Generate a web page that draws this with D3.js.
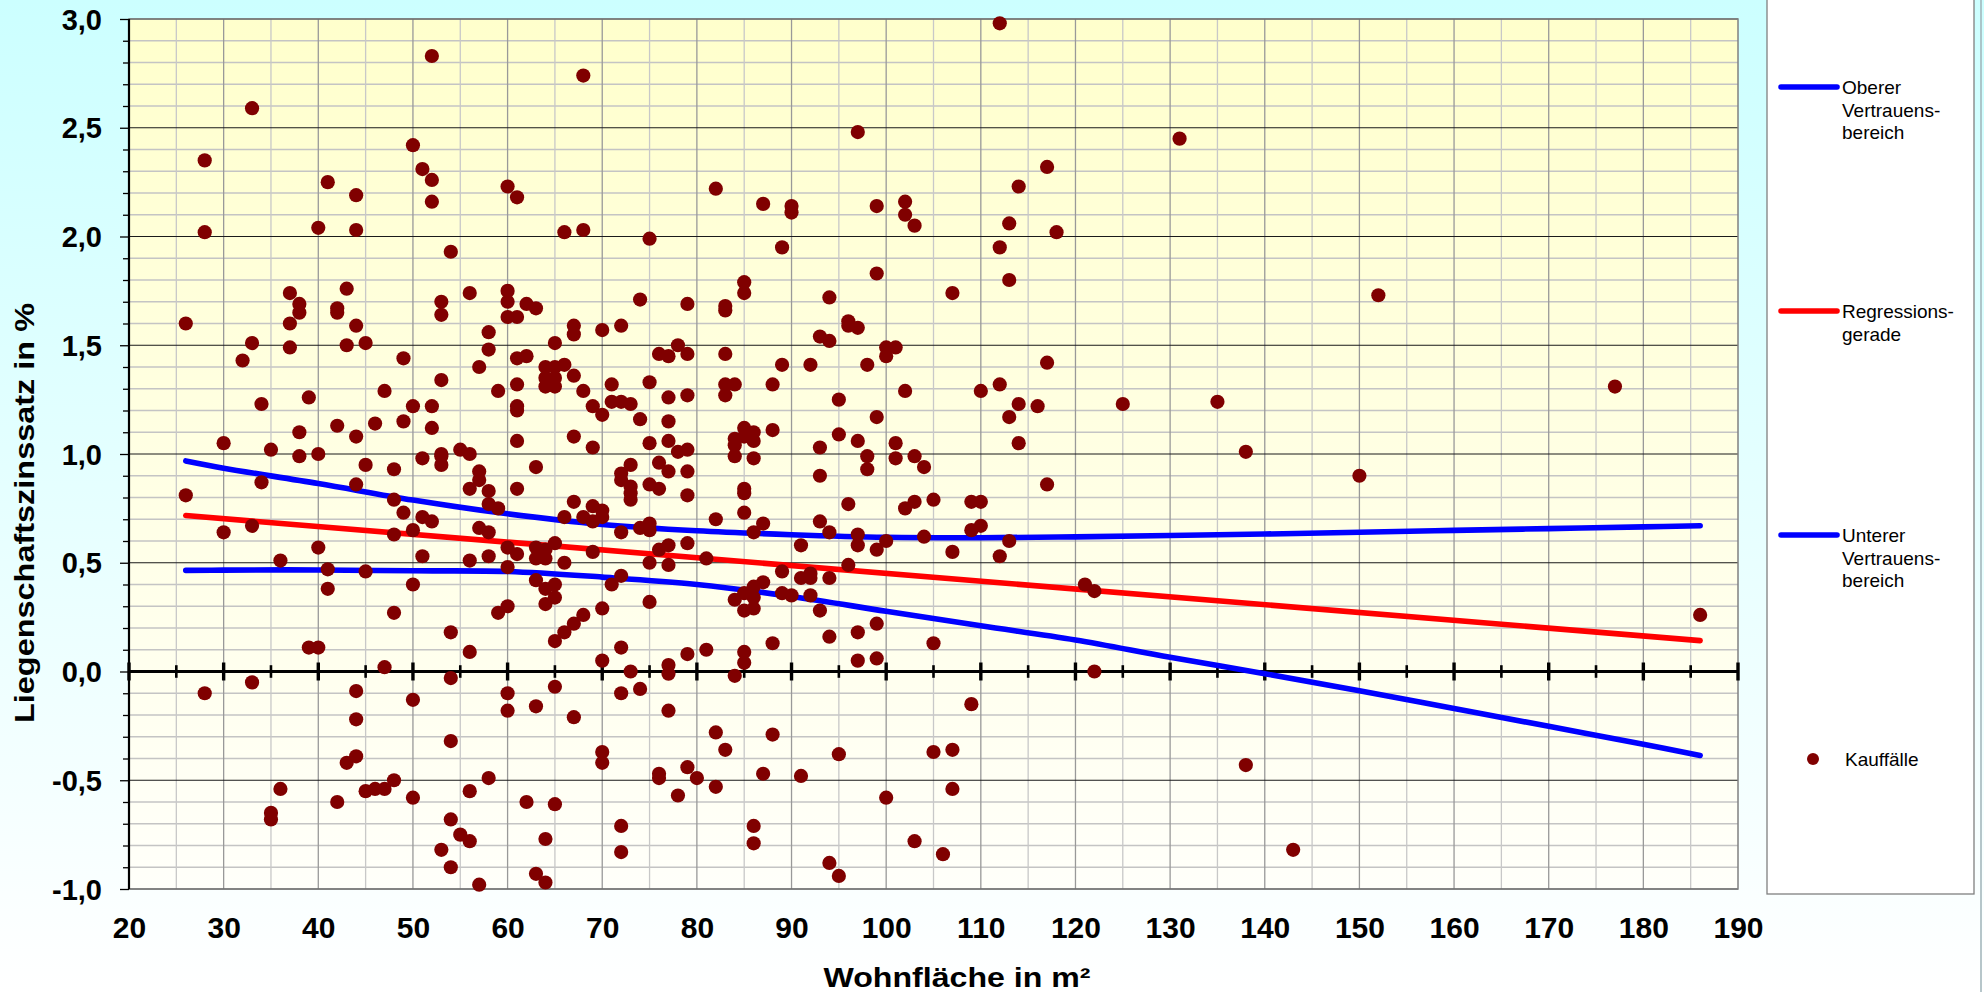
<!DOCTYPE html>
<html>
<head>
<meta charset="utf-8">
<script src="https://cdn.jsdelivr.net/npm/d3@7"></script>
<style>
  html, body { margin: 0; padding: 0; overflow: hidden; }
  svg { display: block; font-family: Arial, "Liberation Sans", sans-serif; }
</style>
</head>
<body>
<svg id="chart" width="1984" height="992"></svg>
<script>
// ---------- data ----------
const xTicks = [20, 30, 40, 50, 60, 70, 80, 90, 100, 110, 120, 130, 140, 150, 160, 170, 180, 190];
const xTickLabels = ["20", "30", "40", "50", "60", "70", "80", "90", "100", "110", "120", "130", "140", "150", "160", "170", "180", "190"];
const yTicks = [-1, -0.5, 0, 0.5, 1, 1.5, 2, 2.5, 3];
const yTickLabels = ["-1,0", "-0,5", "0,0", "0,5", "1,0", "1,5", "2,0", "2,5", "3,0"];

const xTitle = "Wohnfläche in m²";
const yTitle = "Liegenschaftszinssatz in %";

const legendLabels = [
  ["Oberer", "Vertrauens-", "bereich"],
  ["Regressions-", "gerade"],
  ["Unterer", "Vertrauens-", "bereich"],
  ["Kauffälle"]
];

// Regressionsgerade (end points)
const regX = [26, 186];
const regY = [0.717, 0.142];

// Confidence band curves
const bandX   = [26, 30, 40, 50, 60, 70, 80, 90, 100, 110, 120, 130, 140, 150, 160, 170, 180, 186];
const oberer  = [0.968, 0.935, 0.864, 0.788, 0.725, 0.676, 0.647, 0.629, 0.617, 0.615, 0.619, 0.625, 0.632, 0.640, 0.649, 0.657, 0.665, 0.670];
const unterer = [0.465, 0.466, 0.467, 0.463, 0.460, 0.434, 0.400, 0.345, 0.277, 0.210, 0.145, 0.065, -0.010, -0.088, -0.170, -0.252, -0.335, -0.386];

// Kauffälle: [Wohnfläche, Liegenschaftszinssatz]
const kauffaelle = [
  // 26 - 52
  [52,2.83],[33,2.59],[28,2.35],[50,2.42],[51,2.31],[52,2.26],[52,2.16],[41,2.25],[44,2.19],[28,2.02],
  [40,2.04],[44,2.03],[43,1.76],[37,1.74],[38,1.69],[38,1.65],[42,1.67],[42,1.65],[26,1.60],[37,1.60],
  [44,1.59],[33,1.51],[37,1.49],[43,1.50],[45,1.51],[32,1.43],[49,1.44],[47,1.29],[34,1.23],[39,1.26],
  [50,1.22],[52,1.22],[42,1.13],[46,1.14],[49,1.15],[52,1.12],[38,1.10],[44,1.08],[30,1.05],[35,1.02],
  [38,0.99],[40,1.00],[51,0.98],
  [45,0.95],[48,0.93],[34,0.87],[44,0.86],[26,0.81],[48,0.79],[49,0.73],[51,0.71],[52,0.69],[33,0.67],
  [30,0.64],[48,0.63],[50,0.65],[40,0.57],[51,0.53],[36,0.51],[41,0.47],[45,0.46],[41,0.38],[50,0.40],
  [48,0.27],[39,0.11],[40,0.11],[47,0.02],[28,-0.10],[33,-0.05],[44,-0.09],[50,-0.13],[44,-0.22],[44,-0.39],
  [43,-0.42],[36,-0.54],[35,-0.65],[35,-0.68],[42,-0.60],[45,-0.55],[46,-0.54],[47,-0.54],[48,-0.50],[50,-0.58],
  // 53 - 82
  [68,2.74],[60,2.23],[61,2.18],[82,2.22],[66,2.02],[68,2.03],[75,1.99],[54,1.93],[56,1.74],[53,1.70],
  [53,1.64],[60,1.75],[60,1.70],[62,1.69],[63,1.67],[60,1.63],[61,1.63],[74,1.71],[79,1.69],[58,1.56],
  [58,1.48],[57,1.40],[67,1.59],[67,1.55],[70,1.57],[72,1.59],[65,1.51],[61,1.44],[62,1.45],[64,1.40],
  [65,1.40],[66,1.41],[64,1.35],[65,1.35],[64,1.31],[65,1.31],[67,1.36],[68,1.29],[69,1.22],[70,1.18],
  [71,1.32],[71,1.24],[72,1.24],[73,1.23],[74,1.16],[75,1.33],[76,1.46],[77,1.45],[78,1.50],[79,1.46],
  [77,1.26],[79,1.27],[77,1.15],[53,1.34],[59,1.29],[61,1.32],[61,1.22],[61,1.20],[61,1.06],[67,1.08],
  [53,1.00],[55,1.02],[56,1.00],[69,1.03],[75,1.05],[77,1.06],[78,1.01],[79,1.02],
  [53,0.99],[53,0.95],[63,0.94],[57,0.92],[57,0.88],[56,0.84],[58,0.83],[61,0.84],[58,0.77],[59,0.75],
  [57,0.66],[58,0.64],[56,0.51],[58,0.53],[60,0.57],[61,0.54],[60,0.48],[63,0.57],[64,0.56],[63,0.52],
  [64,0.52],[65,0.59],[66,0.50],[67,0.78],[66,0.71],[68,0.71],[69,0.76],[69,0.69],[70,0.74],[70,0.71],
  [69,0.55],[72,0.91],[72,0.88],[73,0.95],[73,0.85],[73,0.82],[73,0.79],[72,0.64],[74,0.66],[75,0.68],
  [75,0.65],[75,0.86],[76,0.84],[76,0.96],[77,0.92],[79,0.92],[79,0.81],[82,0.70],[76,0.56],[77,0.58],
  [75,0.50],[77,0.49],[79,0.59],[81,0.52],[63,0.42],[64,0.38],[65,0.40],[65,0.34],[64,0.31],[60,0.30],
  [59,0.27],[54,0.18],[56,0.09],[65,0.14],[66,0.18],[67,0.22],[68,0.26],[70,0.29],[71,0.40],[72,0.44],
  [75,0.32],[70,0.05],[72,0.11],[73,0.00],[77,0.03],[77,-0.01],[79,0.08],[81,0.10],[54,-0.03],[60,-0.10],
  [60,-0.18],[63,-0.16],[65,-0.07],[67,-0.21],[72,-0.10],[74,-0.08],[77,-0.18],[54,-0.32],[70,-0.37],[70,-0.42],
  [76,-0.47],[76,-0.49],[79,-0.44],[80,-0.49],[82,-0.28],[82,-0.53],[78,-0.57],[58,-0.49],[56,-0.55],[62,-0.60],
  [65,-0.61],[54,-0.68],[55,-0.75],[56,-0.78],[53,-0.82],[54,-0.90],[57,-0.98],[64,-0.77],[63,-0.93],[64,-0.97],
  [72,-0.71],[72,-0.83],
  // 83 - 113
  [112,2.98],[97,2.48],[87,2.15],[90,2.14],[90,2.11],[99,2.14],[102,2.16],[102,2.10],[103,2.05],[113,2.06],
  [112,1.95],[113,1.80],[89,1.95],[99,1.83],[107,1.74],[85,1.79],[85,1.74],[83,1.68],[83,1.66],[94,1.72],
  [96,1.61],[96,1.59],[97,1.58],[93,1.54],[94,1.52],[100,1.49],[101,1.49],[100,1.45],[83,1.46],[89,1.41],
  [92,1.41],[98,1.41],[83,1.32],[84,1.32],[83,1.27],[88,1.32],[102,1.29],[95,1.25],[99,1.17],[110,1.29],
  [112,1.32],[113,1.17],[85,1.12],[84,1.07],[85,1.08],[86,1.10],[86,1.06],[84,1.04],[88,1.11],[93,1.03],
  [95,1.09],[97,1.06],[101,1.05],
  [84,0.99],[86,0.98],[98,0.99],[98,0.93],[101,0.98],[103,0.99],[104,0.94],[93,0.90],[85,0.84],[85,0.82],
  [85,0.73],[87,0.68],[86,0.64],[93,0.69],[94,0.64],[96,0.77],[97,0.63],[97,0.58],[99,0.56],[100,0.60],
  [102,0.75],[103,0.78],[105,0.79],[104,0.62],[107,0.55],[109,0.78],[110,0.78],[109,0.65],[110,0.67],[112,0.53],
  [113,0.60],[91,0.58],[96,0.49],[89,0.46],[91,0.43],[92,0.45],[92,0.43],[94,0.43],[87,0.41],[86,0.39],
  [85,0.36],[84,0.33],[86,0.34],[85,0.28],[86,0.29],[89,0.36],[90,0.35],[92,0.35],[93,0.28],[88,0.13],
  [85,0.09],[85,0.04],[84,-0.02],[94,0.16],[97,0.18],[99,0.22],[97,0.05],[99,0.06],[105,0.13],[109,-0.15],
  [83,-0.36],[88,-0.29],[95,-0.38],[87,-0.47],[91,-0.48],[105,-0.37],[107,-0.36],[107,-0.54],[100,-0.58],[86,-0.71],
  [86,-0.79],[103,-0.78],[106,-0.84],[94,-0.88],[95,-0.94],
  // 114 and above
  [131,2.45],[117,2.32],[114,2.23],[118,2.02],[152,1.73],[117,1.42],[114,1.23],[116,1.22],[125,1.23],[135,1.24],
  [114,1.05],[138,1.01],[150,0.90],[117,0.86],[121,0.40],[122,0.37],[122,0.00],[138,-0.43],[143,-0.82],
  [177,1.31],[186,0.26]
];

// ---------- drawing ----------
const svg = d3.select("#chart");
const W = 1984, H = 992;
const P = { left: 129, right: 1738, top: 19, bottom: 889 };

const x = d3.scaleLinear().domain([20, 190]).range([P.left, P.right]);
const y = d3.scaleLinear().domain([-1, 3]).range([P.bottom, P.top]);

const defs = svg.append("defs");
const bgGrad = defs.append("linearGradient").attr("id", "bgGrad").attr("x1", 0).attr("y1", 0).attr("x2", 0).attr("y2", 1);
bgGrad.append("stop").attr("offset", "0%").attr("stop-color", "#CCFFFF");
bgGrad.append("stop").attr("offset", "100%").attr("stop-color", "#FFFFFF");
const plotGrad = defs.append("linearGradient").attr("id", "plotGrad").attr("x1", 0).attr("y1", 0).attr("x2", 0).attr("y2", 1);
plotGrad.append("stop").attr("offset", "0%").attr("stop-color", "#FFFFCC");
plotGrad.append("stop").attr("offset", "100%").attr("stop-color", "#FFFFFA");

svg.append("rect").attr("x", 0).attr("y", 0).attr("width", W).attr("height", H).attr("fill", "url(#bgGrad)");
svg.append("line").attr("x1", 1981).attr("x2", 1981).attr("y1", 0).attr("y2", H).attr("stroke", "#9fb3b8").attr("stroke-width", 1.5);

// plot background
svg.append("rect")
  .attr("x", x(20)).attr("y", y(3))
  .attr("width", x(190) - x(20)).attr("height", y(-1) - y(3))
  .attr("fill", "url(#plotGrad)");

// grid
const grid = svg.append("g");
const minorY = d3.range(-10, 31).map(d => d / 10).filter(d => Math.abs(d * 2 - Math.round(d * 2)) > 1e-6);
grid.selectAll("line.hmin").data(minorY).join("line")
  .attr("x1", x(20)).attr("x2", x(190))
  .attr("y1", d => y(d)).attr("y2", d => y(d))
  .attr("stroke", "#C4C4C4").attr("stroke-width", 1.3);
const vx5 = d3.range(25, 190, 10);
grid.selectAll("line.v5").data(vx5).join("line")
  .attr("x1", d => x(d)).attr("x2", d => x(d))
  .attr("y1", y(3)).attr("y2", y(-1))
  .attr("stroke", "#C8C8C8").attr("stroke-width", 1.3);
grid.selectAll("line.v10").data(xTicks.slice(1, -1)).join("line")
  .attr("x1", d => x(d)).attr("x2", d => x(d))
  .attr("y1", y(3)).attr("y2", y(-1))
  .attr("stroke", "#999999").attr("stroke-width", 1.3);
grid.selectAll("line.hmaj").data(yTicks.filter(d => d !== 0)).join("line")
  .attr("x1", x(20)).attr("x2", x(190))
  .attr("y1", d => y(d)).attr("y2", d => y(d))
  .attr("stroke", "#1a1a1a").attr("stroke-width", 1);

// plot border
svg.append("rect")
  .attr("x", x(20)).attr("y", y(3))
  .attr("width", x(190) - x(20)).attr("height", y(-1) - y(3))
  .attr("fill", "none").attr("stroke", "#808080").attr("stroke-width", 1.5);

// y axis (minor ticks)
const yMinorAxis = d3.axisLeft(y).tickValues(minorY).tickSize(6).tickFormat("");
svg.append("g").attr("transform", `translate(${x(20)},0)`).call(yMinorAxis)
  .call(g => g.select(".domain").remove())
  .call(g => g.selectAll(".tick line").attr("stroke", "#000").attr("stroke-width", 1.3));

// y axis (major ticks + labels)
const yAxis = d3.axisLeft(y).tickValues(yTicks).tickSize(9).tickPadding(18)
  .tickFormat((d, i) => yTickLabels[i]);
svg.append("g").attr("transform", `translate(${x(20)},0)`).call(yAxis)
  .call(g => g.select(".domain").attr("stroke", "#000").attr("stroke-width", 2.2).attr("d", `M0,${y(3)}V${y(-1)}`))
  .call(g => g.selectAll(".tick line").attr("stroke", "#000").attr("stroke-width", 1.3))
  .call(g => g.selectAll(".tick text")
    .attr("font-family", "Arial, 'Liberation Sans', sans-serif")
    .attr("font-size", 29).attr("font-weight", "bold").attr("fill", "#000")
    .attr("dy", "0.35em"));

// x axis labels (below plot)
const xAxis = d3.axisBottom(x).tickValues(xTicks).tickSize(0).tickPadding(0)
  .tickFormat((d, i) => xTickLabels[i]);
svg.append("g").attr("transform", `translate(0,${y(-1)})`).call(xAxis)
  .call(g => g.select(".domain").remove())
  .call(g => g.selectAll(".tick text")
    .attr("font-family", "Arial, 'Liberation Sans', sans-serif")
    .attr("font-size", 30).attr("font-weight", "bold").attr("fill", "#000")
    .attr("y", 49).attr("dy", 0));

// x axis line at zero with crossing ticks
const zeroY = y(0);
svg.append("line").attr("x1", x(20)).attr("x2", x(190)).attr("y1", zeroY).attr("y2", zeroY)
  .attr("stroke", "#000").attr("stroke-width", 3);
svg.append("g").selectAll("line").data(xTicks).join("line")
  .attr("x1", d => x(d)).attr("x2", d => x(d))
  .attr("y1", zeroY - 9).attr("y2", zeroY + 9)
  .attr("stroke", "#000").attr("stroke-width", 3.4);
svg.append("g").selectAll("line").data(vx5).join("line")
  .attr("x1", d => x(d)).attr("x2", d => x(d))
  .attr("y1", zeroY - 6.3).attr("y2", zeroY + 6.3)
  .attr("stroke", "#000").attr("stroke-width", 2.6);

// curves
const lineGen = d3.line().x(d => x(d[0])).y(d => y(d[1])).curve(d3.curveCatmullRom.alpha(0.5));
const lines = svg.append("g").attr("fill", "none").attr("stroke-width", 5.6).attr("stroke-linecap", "round");
lines.append("path").attr("d", lineGen(d3.zip(regX, regY))).attr("stroke", "#FF0000");
lines.append("path").attr("d", lineGen(d3.zip(bandX, oberer))).attr("stroke", "#0000FF");
lines.append("path").attr("d", lineGen(d3.zip(bandX, unterer))).attr("stroke", "#0000FF");

// points
svg.append("g").selectAll("circle").data(kauffaelle).join("circle")
  .attr("cx", d => x(d[0])).attr("cy", d => y(d[1])).attr("r", 7.1)
  .attr("fill", "#800000");

// axis titles
svg.append("text")
  .attr("transform", `translate(33.5,${(303 + 723) / 2}) rotate(-90)`)
  .attr("text-anchor", "middle")
  .attr("font-size", 27).attr("font-weight", "bold").attr("fill", "#000")
  .attr("textLength", 420).attr("lengthAdjust", "spacingAndGlyphs")
  .text(yTitle);
svg.append("text")
  .attr("x", 957).attr("y", 987)
  .attr("text-anchor", "middle")
  .attr("font-size", 28).attr("font-weight", "bold").attr("fill", "#000")
  .attr("textLength", 267).attr("lengthAdjust", "spacingAndGlyphs")
  .text(xTitle);

// legend
const lg = svg.append("g");
lg.append("rect").attr("x", 1767).attr("y", -2).attr("width", 207).attr("height", 896)
  .attr("fill", "#FFFFFF").attr("stroke", "#808080").attr("stroke-width", 1.3);
const legendY = [87, 311, 535, 759];
const legendColor = ["#0000FF", "#FF0000", "#0000FF", "#800000"];
legendLabels.forEach((lab, i) => {
  if (i < 3) {
    lg.append("line").attr("x1", 1781).attr("x2", 1837).attr("y1", legendY[i]).attr("y2", legendY[i])
      .attr("stroke", legendColor[i]).attr("stroke-width", 5.6).attr("stroke-linecap", "round");
  } else {
    lg.append("circle").attr("cx", 1813).attr("cy", legendY[i]).attr("r", 6).attr("fill", legendColor[i]);
  }
  const t = lg.append("text").attr("x", 1842).attr("y", legendY[i] + 7)
    .attr("font-size", 19).attr("fill", "#000");
  lab.forEach((s, j) => {
    t.append("tspan").attr("x", i < 3 ? 1842 : 1845).attr("dy", j === 0 ? 0 : 22.5).text(s);
  });
});
</script>
</body>
</html>
